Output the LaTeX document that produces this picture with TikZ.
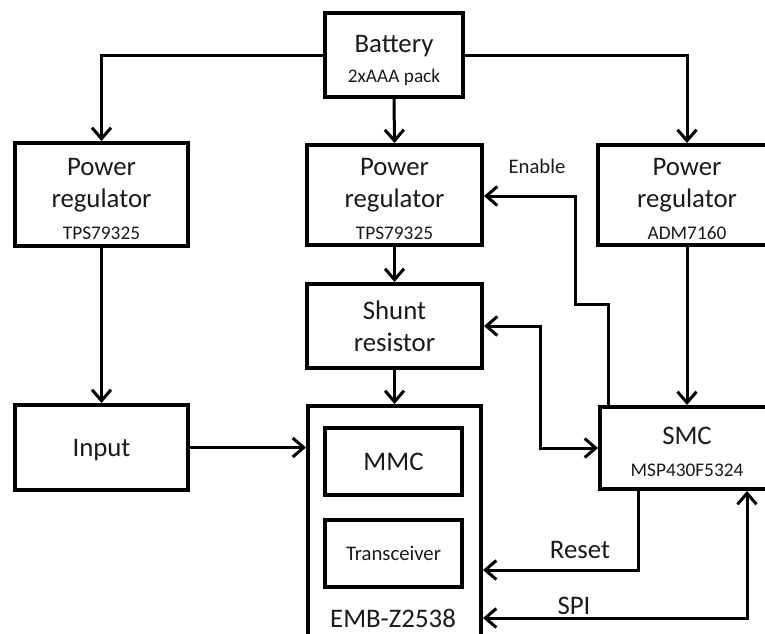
\documentclass[tikz,border=0pt]{standalone}
\usepackage{fontspec}
\setmainfont{Carlito}
\usepackage{xcolor}
\usetikzlibrary{arrows.meta}
\definecolor{inkline}{HTML}{000000}
\definecolor{inktext}{HTML}{1A1A1A}
\newcommand{\bigtxt}{\fontsize{26.8}{32}\selectfont}
\newcommand{\parttxt}{\fontsize{19.3}{22}\selectfont}
\newcommand{\sigtxt}{\fontsize{20.7}{24}\selectfont}
\newcommand{\padtop}{\rule{0pt}{25pt}}
\tikzset{
  blockbox/.style = {draw=inkline, line width=4pt, align=center,
                     inner sep=0pt, text depth=0pt, text=inktext,
                     font=\bigtxt},
  innerbox/.style = {blockbox},
  wire/.style     = {draw=inkline, line width=3pt,
                     -{Straight Barb[length=11pt, width=19pt]}},
  wirebi/.style   = {wire, {Straight Barb[length=11pt, width=19pt]}-{Straight Barb[length=11pt, width=19pt]}},
  siglab/.style   = {font=\bigtxt, text=inktext, inner sep=0pt, anchor=base},
}

\begin{document}
\begin{tikzpicture}[x=1pt, y=-1pt]
    \useasboundingbox (0,0) rectangle (765,633);
    \clip (0,0) rectangle (765,633);

    % ---------- block centres ------------------------------------------
    \coordinate (cbat)  at (394,55);     \coordinate (cprl)  at (101.5,194.5);
    \coordinate (cprm)  at (394.5,195);  \coordinate (cprr)  at (687,195);
    \coordinate (cshnt) at (394.5,326);  \coordinate (cinp)  at (101.5,447.5);
    \coordinate (cemb)  at (394.5,533);  \coordinate (csmc)  at (687,448);
    \coordinate (cmmc)  at (393.5,461.5);\coordinate (ctrx)  at (393.5,553.5);

    % ---------- bends of the signal lines --------------------------------
    \coordinate (en1) at (608,304);  \coordinate (en2) at (575,196);
    \coordinate (shb) at (540,448);
    \coordinate (rst) at (638,570);  \coordinate (spi) at (747,618);

    % ---------- supply chain --------------------------------------------
    \node[blockbox, minimum width=138pt, minimum height=84pt] (bat) at (cbat)
      {\padtop Battery\\[-2pt]{\parttxt 2xAAA pack}};
    \node[blockbox, minimum width=173pt, minimum height=103pt] (prl) at (cprl)
      {\padtop Power\\regulator\\{\parttxt TPS79325}};
    \node[blockbox, minimum width=175pt, minimum height=100pt] (prm) at (cprm)
      {\padtop Power\\regulator\\{\parttxt TPS79325}};
    \node[blockbox, minimum width=178pt, minimum height=100pt] (prr) at (cprr)
      {\padtop Power\\regulator\\{\parttxt ADM7160}};
    \node[blockbox, minimum width=175pt, minimum height=84pt] (shnt) at (cshnt)
      {Shunt\\resistor};
    \node[blockbox, minimum width=173pt, minimum height=85pt] (inp) at (cinp) {Input};

    % ---------- module and controller -----------------------------------
    \node[blockbox, minimum width=173pt, minimum height=254pt] (emb) at (cemb) {};
    \node[innerbox, minimum width=137pt, minimum height=67pt] (mmc) at (cmmc) {MMC};
    \node[innerbox, minimum width=137pt, minimum height=67pt, font=\sigtxt] (trx) at (ctrx)
      {Transceiver};
    \node[siglab] (emblab) at (393,627) {EMB-Z2538};
    \node[blockbox, minimum width=174pt, minimum height=82pt] (smc) at (csmc)
      {\padtop SMC\\{\parttxt MSP430F5324}};

    % ---------- power paths ---------------------------------------------
    \draw[wire] (bat.west) -| (prl.north);
    \draw[wire] (bat.south) -- (prm.north);
    \draw[wire] (bat.east) -| (prr.north);
    \draw[wire] (prl.south) -- (inp.north);
    \draw[wire] (prm.south) -- (shnt.north);
    \draw[wire] (shnt.south) -- (emb.north);
    \draw[wire] (prr.south) -- (smc.north);
    \draw[wire] (inp.east) -- (inp.east -| emb.west);

    % ---------- control and data ----------------------------------------
    \draw[wire] (smc.north -| en1) -- (en1) -| (en2) -- (en2 -| prm.east);
    \node[siglab, font=\sigtxt] (enlab) at (537,173) {Enable};
    \draw[wirebi] (shnt.east) -| (shb) -- (smc.west);
    \draw[wire] (smc.south -| rst) -- (rst) -- (rst -| emb.east);
    \node[siglab] (rstlab) at (580,558) {Reset};
    \draw[wirebi] (spi -| emb.east) -- (spi) -- (spi |- smc.south);
    \node[siglab] (spilab) at (574,614) {SPI};

\end{tikzpicture}
\end{document}
